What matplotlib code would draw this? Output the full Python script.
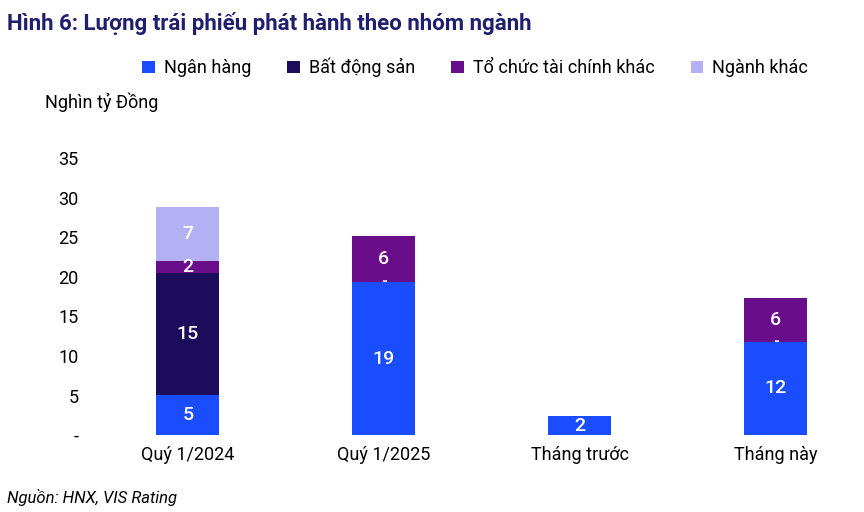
import matplotlib
matplotlib.use("Agg")
import matplotlib.pyplot as plt
import numpy as np

plt.rcParams["font.family"] = "Roboto"

categories = ["Quý 1/2024", "Quý 1/2025", "Tháng trước", "Tháng này"]
series_names = ["Ngân hàng", "Bất động sản", "Tổ chức tài chính khác", "Ngành khác"]
ngan_hang = [5.1, 19.3, 2.4, 11.8]
bat_dong_san = [15.4, 0, 0, 0]
to_chuc_tc = [1.5, 5.8, 0, 5.5]
nganh_khac = [6.8, 0, 0, 0]
colors = ["#1a4dff", "#1c0c5c", "#6a0d8a", "#b3b1f4"]
yticks = [0, 5, 10, 15, 20, 25, 30, 35]

fig = plt.figure(figsize=(8.64, 5.12), dpi=100)
ax = fig.add_axes([0.104, 0.150, 0.896, 0.557])

x = np.arange(len(categories))
bottom = np.zeros(len(categories))
for name, vals, col in zip(series_names, [ngan_hang, bat_dong_san, to_chuc_tc, nganh_khac], colors):
    vals = np.array(vals, dtype=float)
    ax.bar(x, vals, 0.32, bottom=bottom, color=col, label=name)
    for xi, v, b in zip(x, vals, bottom):
        if v > 0:
            ax.text(xi, b + v / 2, f"{v:.0f}", ha="center", va="center", color="white",
                    fontsize=14, fontweight="medium")
        elif b > 0 and xi != 2:
            # zero-valued segments are labelled "-" on the stack
            ax.text(xi, b, "-", ha="center", va="center", color="white", fontsize=11, fontweight="bold")
    bottom += vals

ax.set_xlim(-0.5, 3.45)
ax.set_ylim(0, 36)
ax.set_yticks(yticks)
ax.set_yticklabels(["-"] + [str(t) for t in yticks[1:]], fontsize=13)
ax.set_xticks(x)
ax.set_xticklabels(categories, fontsize=13)
ax.tick_params(length=0, pad=8)
for s in ax.spines.values():
    s.set_visible(False)

fig.text(0.008, 0.955, "Hình 6: Lượng trái phiếu phát hành theo nhóm ngành", fontsize=16,
         fontweight="bold", color="#1f1f6e", va="center")
fig.text(0.052, 0.80, "Nghìn tỷ Đồng", fontsize=13, va="center")
fig.text(0.008, 0.028, "Nguồn: HNX, VIS Rating", fontsize=12, style="italic", va="center")
fig.legend(loc="center", bbox_to_anchor=(0.55, 0.868), ncol=4, frameon=False, fontsize=13,
           handlelength=0.7, handleheight=0.7, columnspacing=2.0, handletextpad=0.5)

fig.savefig("out.png", dpi=100)
